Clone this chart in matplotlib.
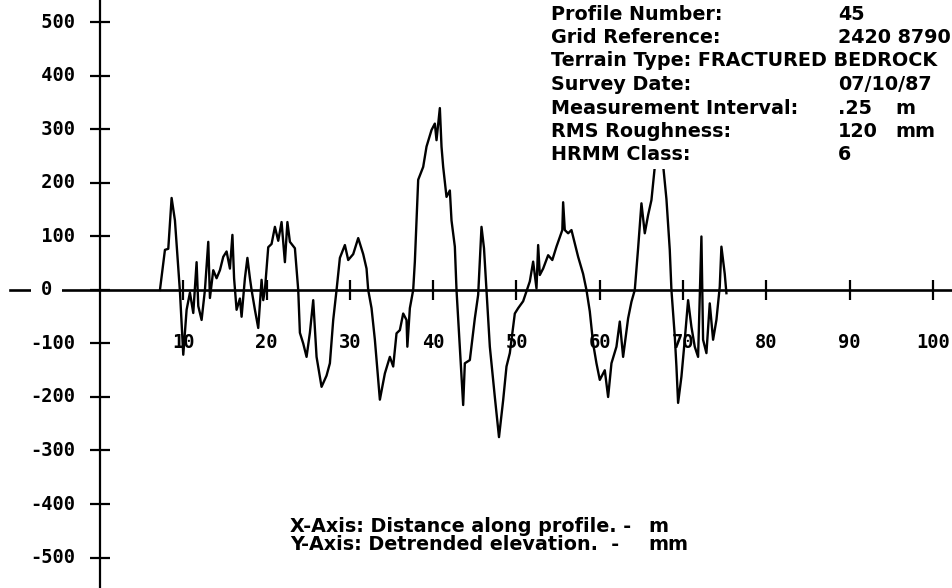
import matplotlib
matplotlib.use("Agg")
import matplotlib.pyplot as plt

# Profile data: distance along profile (m) and detrended elevation (mm)
distance = [7.2, 7.8, 8.2, 8.6, 9.0, 9.4, 9.6, 10.0, 10.4, 10.8, 11.2, 11.6, 11.8, 12.2,
            12.6, 13.0, 13.2, 13.6, 14.0, 14.4, 14.8, 15.2, 15.6, 15.9, 16.1, 16.4, 16.8,
            17.0, 17.4, 17.7, 18.0, 18.2, 18.6, 19.0, 19.4, 19.6, 19.8, 20.2, 20.6, 21.0,
            21.4, 21.8, 22.2, 22.5, 22.8, 23.4, 23.8, 24.0, 24.4, 24.8, 25.2, 25.6, 26.0,
            26.6, 27.2, 27.6, 28.0, 28.4, 28.8, 29.4, 29.8, 30.4, 31.0, 31.6, 32.0, 32.2,
            32.6, 33.0, 33.6, 34.2, 34.8, 35.2, 35.6, 36.0, 36.4, 36.8, 36.9, 37.2, 37.6,
            37.8, 38.2, 38.8, 39.2, 39.8, 40.2, 40.4, 40.8, 41.0, 41.2, 41.6, 42.0, 42.2,
            42.6, 42.8, 43.2, 43.6, 43.8, 44.4, 45.0, 45.4, 45.8, 46.1, 46.4, 46.8, 47.4,
            47.9, 48.4, 48.8, 49.2, 49.8, 50.2, 50.8, 51.6, 52.0, 52.4, 52.6, 52.8, 53.2,
            53.8, 54.3, 54.8, 55.5, 55.6, 55.8, 56.2, 56.6, 57.0, 57.4, 58.0, 58.4, 58.8,
            59.2, 59.6, 60.0, 60.6, 61.0, 61.4, 62.0, 62.4, 62.8, 63.4, 63.8, 64.2, 64.6,
            65.0, 65.4, 65.8, 66.2, 66.6, 67.0, 67.5, 68.0, 68.4, 68.6, 69.0, 69.2, 69.4,
            69.8, 70.2, 70.6, 71.0, 71.4, 71.8, 72.2, 72.4, 72.8, 73.2, 73.6, 74.0, 74.4,
            74.6, 75.0, 75.2]
elevation = [0, 75, 77, 172, 130, 43, -3, -121, -37, -5, -43, 52, -30, -56,
             0, 90, -15, 37, 22, 37, 62, 72, 40, 103, 22, -37, -16,
             -50, 22, 60, 22, 0, -37, -71, 19, -19, 0, 80, 86, 118,
             92, 127, 52, 127, 90, 78, 0, -80, -100, -125, -80, -19, -125,
             -181, -160, -137, -56, 0, 60, 84, 56, 67, 97, 67, 40, 0,
             -34, -93, -205, -156, -125, -143, -81, -75, -44, -56, -106, -34, 0,
             53, 206, 230, 268, 299, 311, 280, 340, 268, 230, 174, 186, 130,
             81, 0, -106, -215, -137, -131, -53, -9, 118, 78, 0, -106, -200,
             -275, -206, -143, -118, -44, -34, -21, 16, 53, 3, 84, 28, 40,
             65, 56, 81, 112, 164, 112, 106, 112, 87, 62, 30, 0, -40,
             -100, -137, -168, -150, -200, -137, -106, -59, -125, -53, -22, 0, 78,
             162, 106, 140, 168, 230, 270, 250, 170, 75, 0, -86, -143, -211,
             -162, -93, -19, -69, -106, -125, 100, -93, -118, -25, -93, -56, 6,
             81, 30, -6]

x_ticks = [10, 20, 30, 40, 50, 60, 70, 80, 90, 100]
y_ticks = [500, 400, 300, 200, 100, 0, -100, -200, -300, -400, -500]

info_labels = ["Profile Number:", "Grid Reference:", "Terrain Type: FRACTURED BEDROCK",
               "Survey Date:", "Measurement Interval:", "RMS Roughness:", "HRMM Class:"]
info_values = ["45", "2420 8790", "", "07/10/87", ".25", "120", "6"]
info_units = ["", "", "", "", "m", "mm", ""]

axis_notes = ["X-Axis: Distance along profile. -", "Y-Axis: Detrended elevation.  -"]
axis_units = ["m", "mm"]

mono = "DejaVu Sans Mono"
white = dict(facecolor="white", edgecolor="none", pad=3)

fig = plt.figure(figsize=(9.53, 5.88), dpi=100)
ax = fig.add_axes([0, 0, 1, 1])
ax.set_xlim(-12, 102.4)
ax.set_ylim(-557, 542)

# Axes cross at the origin
ax.spines["left"].set_position(("data", 0))
ax.spines["bottom"].set_position(("data", 0))
ax.spines["top"].set_visible(False)
ax.spines["right"].set_visible(False)
ax.spines["left"].set_linewidth(1.6)
ax.spines["bottom"].set_linewidth(1.9)
ax.spines["bottom"].set_bounds(-10.8, 102.4)

ax.set_xticks(x_ticks)
ax.set_yticks(y_ticks)
ax.set_yticklabels([])
ax.tick_params(axis="x", direction="inout", length=14, width=1.6, pad=24,
               labelsize=13.5)
ax.tick_params(axis="y", direction="inout", length=14, width=1.6)
for lab in ax.get_xticklabels():
    lab.set_fontfamily(mono)
    lab.set_fontweight("bold")

# y labels, BASIC style: sign slot then digits, left aligned
for v in y_ticks:
    if v == 0:
        # zero sits on the x axis and breaks the line
        ax.text(-7.1, v, "0", ha="left", va="center", fontsize=13.5,
                fontfamily=mono, fontweight="bold",
                bbox=dict(facecolor="white", edgecolor="none", pad=7))
        continue
    txt = f"{v}" if v < 0 else f" {v}"
    ax.text(-8.4, v, txt, ha="left", va="center", fontsize=13.5,
            fontfamily=mono, fontweight="bold")

# the profile itself
ax.plot(distance, elevation, color="black", linewidth=1.7, zorder=3)

# info block in the top right corner
for i in range(len(info_labels)):
    yy = 1 - (14 + i * 23.5) / 588
    fig.text(551 / 953, yy, info_labels[i], ha="left", va="center", fontsize=13.8,
             fontweight="bold", zorder=5, bbox=white)
    if info_values[i]:
        fig.text(838 / 953, yy, info_values[i], ha="left", va="center", fontsize=13.8,
                 fontweight="bold", zorder=5, bbox=white)
    if info_units[i]:
        fig.text(895 / 953, yy, info_units[i], ha="left", va="center", fontsize=13.8,
                 fontweight="bold", zorder=5)

# axis notes at the bottom
for i in range(len(axis_notes)):
    yy = 1 - (527 + i * 18) / 588
    fig.text(290 / 953, yy, axis_notes[i], ha="left", va="center", fontsize=13.8,
             fontweight="bold")
    fig.text(648 / 953, yy, axis_units[i], ha="left", va="center", fontsize=13.8,
             fontweight="bold")

fig.savefig("out.png", dpi=100)
